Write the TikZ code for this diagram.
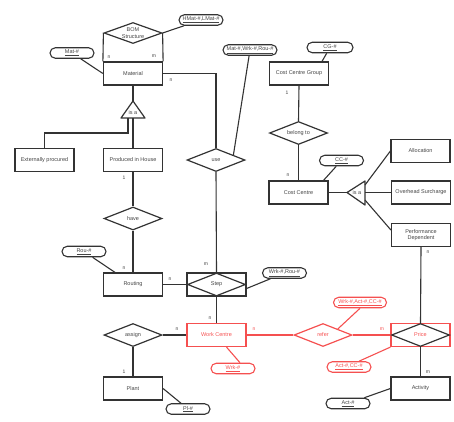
\documentclass[tikz,border=0pt]{standalone}
\usepackage{fontspec}
\setmainfont{Liberation Sans}
\usetikzlibrary{shapes.geometric,calc}
\definecolor{ln}{HTML}{333333}
\definecolor{tx}{HTML}{444444}
\definecolor{rd}{RGB}{245,80,80}
\begin{document}
\begin{tikzpicture}[x=1pt,y=-1pt,
 every node/.style={font=\fontsize{5.5}{6.5}\selectfont, text=tx, inner sep=0pt},
 ent/.style={draw=ln, line width=1.2pt, minimum width=59pt, minimum height=23pt},
 rel/.style={diamond, draw=ln, line width=1.2pt, minimum width=58pt, minimum height=23pt},
 attr/.style={draw=ln, line width=1.1pt, rounded corners=5.25pt, minimum width=44pt, minimum height=10.5pt, inner xsep=3pt},
 con/.style={draw=ln, line width=1.1pt},
 redent/.style={draw=rd, text=rd},
 card/.style={font=\fontsize{5}{6}\selectfont},
 ]
\useasboundingbox (0,0) rectangle (454,421);

% ---- nodes ----
\node[rel, minimum height=21pt, label={[align=center]center:BOM\\Structure}] (bom) at (133,33) {};
\node[ent] (mat) at (133,73.5) {Material};
\node[attr] (hmat) at (201,20) {\underline{HMat-\#,LMat-\#}};
\node[attr] (matid) at (72,53) {\underline{Mat-\#}};
\node[attr, minimum width=54pt] (mwr) at (250,50) {\underline{Mat-\#,Wrk-\#,Rou-\#}};
\node[rel, label=center:use] (use) at (216,160) {};

\coordinate (isa1apex) at (133,101);
\coordinate (isa1l) at (121,118);
\coordinate (isa1r) at (145,118);
\coordinate (isa1b) at (133,118);
\coordinate (isa1L) at (128,118);
\coordinate (bendE) at (128,133);
\draw[draw=ln, line width=1.2pt, line join=round] (isa1apex) -- (isa1l) -- (isa1r) -- cycle;
\node (isa1t) at (133,112.5) {is a};

\node[ent] (ext) at (44.5,160) {Externally procured};
\node[ent] (pih) at (133,160) {Produced in House};
\node[rel, label=center:have] (have) at (133,218.5) {};
\node[ent] (rout) at (133,284.5) {Routing};
\node[attr] (rou) at (84,251.5) {\underline{Rou-\#}};
\node[ent] (stepbox) at (216.5,284.5) {};
\node[rel, label=center:Step] (stepdia) at (216.5,284.5) {};
\node[attr] (wrrou) at (284.5,273) {\underline{Wrk-\#,Rou-\#}};
\node[ent, redent] (wc) at (216.5,335) {Work Centre};
\node[rel, label=center:assign] (assign) at (133,335) {};
\node[ent] (plant) at (133,388.5) {Plant};
\node[attr] (pl) at (188,409) {\underline{Pl-\#}};
\node[attr, redent] (wrk) at (233,368.5) {\underline{Wrk-\#}};
\node[rel, redent, label={[text=rd]center:refer}] (refer) at (323,335) {};
\node[ent, draw=rd] (pricebox) at (420.5,335) {};
\node[rel, label={[text=rd]center:Price}] (pricedia) at (420.5,335) {};
\node[attr, redent, minimum width=53pt] (wac) at (360,302.5) {\underline{Wrk-\#,Act-\#,CC-\#}};
\node[attr, redent] (acc) at (349,367) {\underline{Act-\#,CC-\#}};
\node[ent, align=center] (perf) at (421,235) {Performance\\Dependent};
\node[ent] (activity) at (420.5,388.5) {Activity};
\node[attr] (actid) at (348,403.5) {\underline{Act-\#}};
\node[ent] (ccg) at (299,73.5) {Cost Centre Group};
\node[attr, minimum width=46pt] (cg) at (330,47.5) {\underline{CG-\#}};
\node[rel, label=center:belong to] (belong) at (298.5,133) {};
\node[ent] (cc) at (298.5,192.5) {Cost Centre};
\node[attr] (ccid) at (341.5,160.5) {\underline{CC-\#}};

\coordinate (isa2apex) at (347,192.5);
\coordinate (isa2t) at (365,181);
\coordinate (isa2b) at (365,205);
\coordinate (isa2a) at (365,185);
\coordinate (isa2m) at (365,192.5);
\coordinate (isa2c) at (365,200);
\draw[draw=ln, line width=1.2pt, line join=round] (isa2apex) -- (isa2t) -- (isa2b) -- cycle;
\node (isa2txt) at (357,192.5) {is a};

\node[ent] (alloc) at (420.5,151) {Allocation};
\node[ent] (ohs) at (421,192.5) {Overhead Surcharge};

% ---- connectors ----
\draw[con] (bom.west) -- (mat.north west);
\draw[con] (bom.east) -- (mat.north east);
\draw[con] (bom.east) -- (hmat);
\draw[con] (matid) -- (mat.west);
\draw[con] (mat.east) -| (use.north);
\draw[con] (mwr) -- (use.16);
\draw[con] (mat.south) -- (isa1apex);
\draw[con] (isa1b) -- (pih.north);
\draw[con] (isa1L) -- (bendE) -| (ext.north);
\draw[con] (pih.south) -- (have.north);
\draw[con] (have.south) -- (rout.north);
\draw[con] (rou) -- ($(rout.north)+(-18,0)$);
\draw[con] (rout.east) -- (stepbox.west);
\draw[con] (use.south) -- (stepbox.north);
\draw[con] ($(stepbox.east)+(0,4)$) -- (wrrou);
\draw[con] (stepbox.south) -- (wc.north);
\draw[con] (assign.east) -- (wc.west);
\draw[con] (assign.south) -- (plant.north);
\draw[con] (plant.east) -- (pl);
\draw[con, draw=rd] ($(wc.south)+(10,0)$) -- ($(wrk.north)+(7,0)$);
\draw[con, draw=rd] (wc.east) -- (refer.west);
\draw[con, draw=rd] (refer.east) -- (pricebox.west);
\draw[con, draw=rd] (wac.south) -- (refer.north east);
\draw[con, draw=rd] (pricebox.south west) -- ($(acc.north)+(10,0)$);
\draw[con] (perf.south) -- (pricebox.north);
\draw[con] (pricebox.south) -- (activity.north);
\draw[con] (activity.west) -- (actid);
\draw[con] (ccg.south) -- (belong.north);
\draw[con] (belong.south) -- (cc.north);
\draw[con] (cg) -- ($(ccg.north)+(23,0)$);
\draw[con] (ccid) -- ($(cc.north)+(25,0)$);
\draw[con] (cc.east) -- (isa2apex);
\draw[con] (isa2a) -- (alloc.west);
\draw[con] (isa2m) -- (ohs.west);
\draw[con] (isa2c) -- ($(perf.west)+(0,-5)$);

% ---- cardinalities ----
\node[card] (c1) at (109,57) {n};
\node[card] (c2) at (154,56) {m};
\node[card] (c3) at (171,80) {n};
\node[card] (c4) at (124,178) {1};
\node[card] (c5) at (124,268) {n};
\node[card] (c6) at (170,279) {n};
\node[card] (c7) at (206,264) {m};
\node[card] (c8) at (210,318) {n};
\node[card] (c9) at (177,329) {n};
\node[card] (c10) at (124,372) {1};
\node[card, text=rd] (c11) at (254,329) {n};
\node[card, text=rd] (c12) at (382,329) {m};
\node[card] (c13) at (428,252) {n};
\node[card] (c14) at (428,372) {m};
\node[card] (c15) at (287,93) {1};
\node[card] (c16) at (288,175) {n};
\end{tikzpicture}
\end{document}
